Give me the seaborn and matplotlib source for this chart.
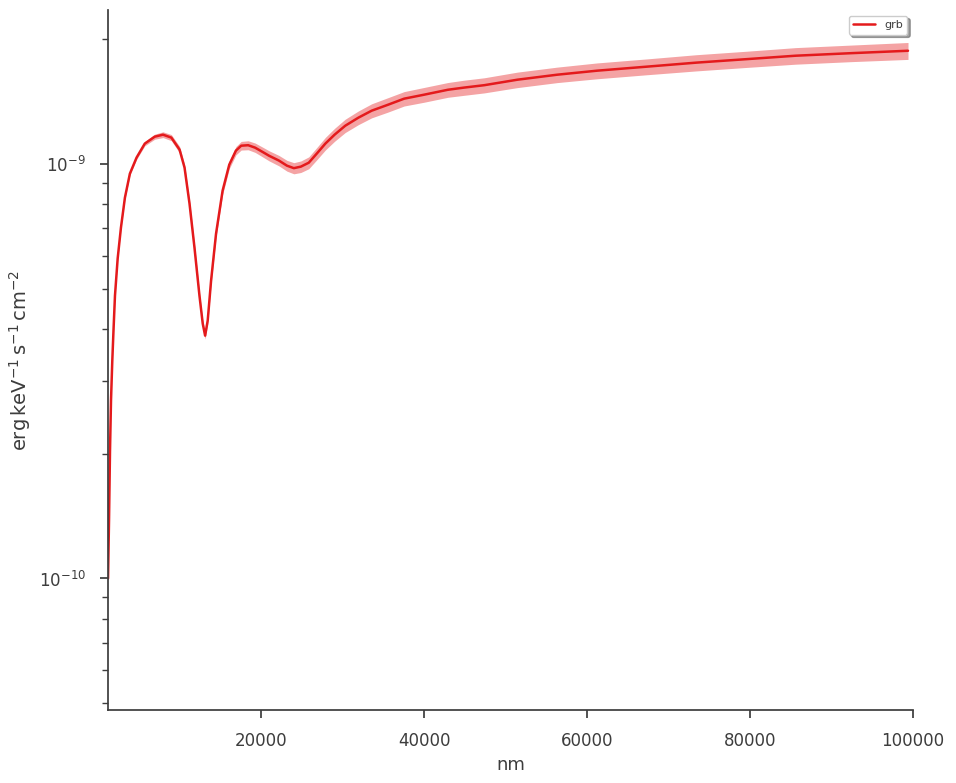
import numpy as np
import pandas as pd
import seaborn as sns
import matplotlib
matplotlib.use("Agg")
import matplotlib.pyplot as plt

# spectrum (wavelength in nm, flux in erg/keV/s/cm2)
wavelength = [1220, 1341, 1463, 1585, 1744, 1890, 2073, 2402, 2805, 3293,
              3902, 4720, 5732, 6951, 7963, 8988, 10000, 10610, 11220, 11829,
              12439, 12842, 13134, 13451, 13866, 14476, 15280, 16098, 16915, 17561,
              18415, 19268, 20122, 20976, 22195, 23171, 24024, 24878, 25854, 26829,
              27890, 29024, 30329, 31951, 33573, 35610, 37561, 40000, 42927, 44878,
              47402, 51463, 56341, 61220, 67317, 73415, 79512, 85610, 92439, 99390]
flux = [1.000e-10, 1.380e-10, 2.036e-10, 2.689e-10, 3.357e-10, 3.965e-10, 4.817e-10, 5.916e-10, 7.028e-10, 8.302e-10,
        9.486e-10, 1.037e-9, 1.121e-9, 1.165e-9, 1.178e-9, 1.159e-9, 1.084e-9, 9.808e-10, 8.030e-10, 6.288e-10,
        4.817e-10, 4.122e-10, 3.856e-10, 4.192e-10, 5.235e-10, 6.797e-10, 8.630e-10, 9.972e-10, 1.078e-9, 1.108e-9,
        1.111e-9, 1.096e-9, 1.072e-9, 1.048e-9, 1.020e-9, 9.917e-10, 9.780e-10, 9.862e-10, 1.008e-9, 1.060e-9,
        1.121e-9, 1.178e-9, 1.238e-9, 1.295e-9, 1.346e-9, 1.392e-9, 1.439e-9, 1.471e-9, 1.512e-9, 1.530e-9,
        1.551e-9, 1.599e-9, 1.644e-9, 1.681e-9, 1.719e-9, 1.758e-9, 1.792e-9, 1.827e-9, 1.853e-9, 1.878e-9]
# fractional half-width of the contour band
band = [0.004, 0.004, 0.004, 0.004, 0.004, 0.005, 0.005, 0.006, 0.007, 0.008,
        0.009, 0.010, 0.012, 0.014, 0.016, 0.017, 0.018, 0.019, 0.019, 0.019,
        0.019, 0.019, 0.019, 0.019, 0.020, 0.020, 0.021, 0.022, 0.023, 0.024,
        0.025, 0.026, 0.027, 0.028, 0.029, 0.030, 0.031, 0.032, 0.033, 0.034,
        0.035, 0.036, 0.037, 0.038, 0.039, 0.040, 0.040, 0.041, 0.041, 0.042,
        0.042, 0.043, 0.043, 0.044, 0.044, 0.045, 0.045, 0.046, 0.046, 0.047]

df = pd.DataFrame({"nm": wavelength, "flux": flux, "band": band})
df["lo"] = df["flux"] * (1 - df["band"])
df["hi"] = df["flux"] * (1 + df["band"])

sns.set_theme(style="ticks", context="notebook")
grey = "#3d3d3d"
plt.rcParams.update({"text.color": grey, "axes.labelcolor": grey,
                     "xtick.color": grey, "ytick.color": grey,
                     "axes.edgecolor": grey})
red = sns.color_palette("Set1")[0]

fig, ax = plt.subplots(figsize=(9.56, 7.83), dpi=100)
fig.subplots_adjust(left=0.113, right=0.955, top=0.987, bottom=0.093)

ax.fill_between(df["nm"], df["lo"], df["hi"], color=red, alpha=0.4, lw=0)
sns.lineplot(data=df, x="nm", y="flux", color=red, lw=1.8, label="grb", ax=ax)

ax.set_yscale("log")
ax.set_xlim(1220, 100000)
ax.set_ylim(4.81e-11, 2.353e-9)
ax.set_xlabel("nm", fontsize=13)
ax.set_ylabel(r"$\mathrm{erg\,keV^{-1}\,s^{-1}\,cm^{-2}}$", fontsize=14)
ax.tick_params(axis="both", which="major", labelsize=12, pad=10)
ax.legend(loc="upper right", fontsize=8, shadow=True, fancybox=True)
sns.despine(ax=ax)

fig.savefig("out.png", dpi=100)
